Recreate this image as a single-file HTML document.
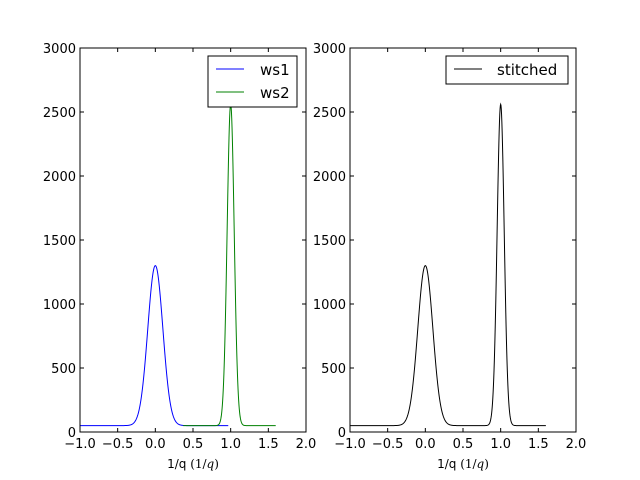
<!DOCTYPE html>
<html><head><meta charset="utf-8"><style>
body{margin:0;background:#fff;}
svg{display:block;font-family:"DejaVu Sans","Liberation Sans",sans-serif;}
</style></head><body>
<svg id="s" width="640" height="480" xmlns="http://www.w3.org/2000/svg">
<rect width="640" height="480" fill="#fff"/>
<g id="axes"></g>
</svg>
<script>
const g=document.getElementById('axes');
const NS='http://www.w3.org/2000/svg';
function el(t,a,txt){const e=document.createElementNS(NS,t);for(const k in a)e.setAttribute(k,a[k]);if(txt!==undefined)e.textContent=txt;g.appendChild(e);return e;}
function gauss(x,c,s,a){return a*Math.exp(-0.5*((x-c)/s)**2);}
function panel(x0,series){
  const w=226,y0=48,h=384;
  const X=v=>x0+(v+1)/3*w, Y=v=>y0+h-v/3000*h;
  series.forEach(s=>{
    let p=[];for(let x=s.a;x<=s.b+1e-9;x+=0.004){p.push(X(x).toFixed(2)+','+Y(s.f(x)).toFixed(2));}
    el('polyline',{points:p.join(' '),fill:'none',stroke:s.c,'stroke-width':1});
  });
  el('rect',{x:x0,y:y0,width:w,height:h,fill:'none',stroke:'#000','stroke-width':1});
  [-1,-0.5,0,0.5,1,1.5,2].forEach(v=>{const x=X(v);
    el('line',{x1:x,y1:y0+h,x2:x,y2:y0+h-4,stroke:'#000'});
    el('line',{x1:x,y1:y0,x2:x,y2:y0+4,stroke:'#000'});
    el('text',{x:x,y:y0+h+16,'text-anchor':'middle','font-size':13},(v<0?'\u2212':'')+Math.abs(v).toFixed(1));});
  for(let v=0;v<=3000;v+=500){const y=Y(v);
    el('line',{x1:x0,y1:y,x2:x0+4,y2:y,stroke:'#000'});
    el('line',{x1:x0+w,y1:y,x2:x0+w-4,y2:y,stroke:'#000'});
    el('text',{x:x0-4,y:y+5,'text-anchor':'end','font-size':13},String(v));}
  const t=el('text',{x:x0+w/2,y:468,'text-anchor':'middle','font-size':12},'1/q ');
  const a=document.createElementNS(NS,'tspan');a.setAttribute('font-family','"DejaVu Serif",serif');a.textContent='(1/';t.appendChild(a);
  const b=document.createElementNS(NS,'tspan');b.setAttribute('font-family','"DejaVu Serif",serif');b.setAttribute('font-style','italic');b.textContent='q';t.appendChild(b);
  const c=document.createElementNS(NS,'tspan');c.setAttribute('font-family','"DejaVu Serif",serif');c.textContent=')';t.appendChild(c);
}
const f1=x=>50+gauss(x,0,0.1,1250), f2=x=>50+gauss(x,1,0.047,2510);
panel(80,[{a:-1,b:0.97,f:f1,c:'#0000ff'},{a:0.37,b:1.6,f:f2,c:'#008000'}]);
panel(350,[{a:-1,b:1.6,f:x=>x<0.6?f1(x):f2(x),c:'#000'}]);
el('rect',{x:208,y:56,width:89,height:51,fill:'#fff',stroke:'#000'});
el('line',{x1:216,y1:69,x2:244,y2:69,stroke:'#0000ff'});
el('text',{x:260,y:75,'font-size':15},'ws1');
el('line',{x1:216,y1:92,x2:244,y2:92,stroke:'#008000'});
el('text',{x:260,y:98,'font-size':15},'ws2');
el('rect',{x:446,y:56,width:122,height:28,fill:'#fff',stroke:'#000'});
el('line',{x1:454,y1:69,x2:482,y2:69,stroke:'#000'});
el('text',{x:497,y:75,'font-size':15},'stitched');
</script>
</body></html>
